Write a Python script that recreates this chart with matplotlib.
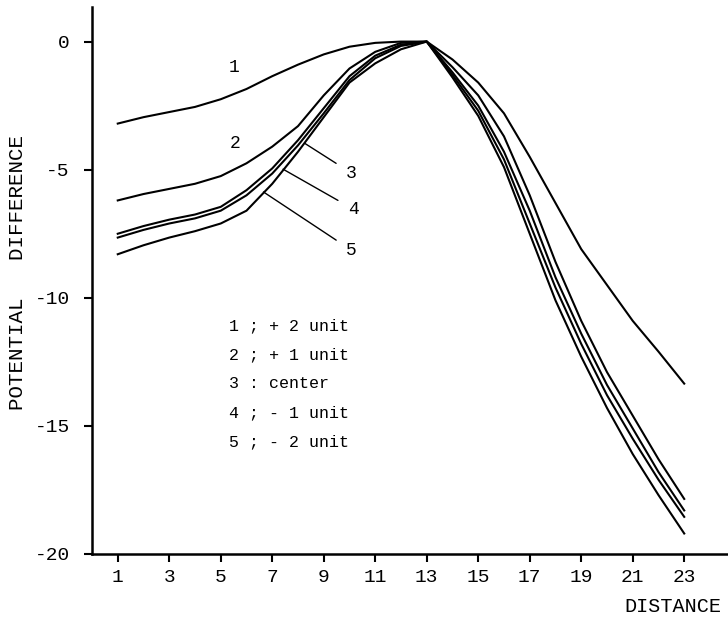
import matplotlib
matplotlib.use("Agg")
import matplotlib.pyplot as plt

plt.rcParams['font.family'] = ['Liberation Mono', 'DejaVu Sans Mono']
plt.rcParams['axes.unicode_minus'] = False

distance = [1, 2, 3, 4, 5, 6, 7, 8, 9, 10, 11, 12, 13,
            14, 15, 16, 17, 18, 19, 20, 21, 22, 23]

# potential difference of each curve
pd1 = [-3.2, -2.95, -2.75, -2.55, -2.25, -1.85, -1.35, -0.9, -0.5, -0.2, -0.05, 0.0, 0.0,
       -0.7, -1.6, -2.8, -4.5, -6.3, -8.1, -9.5, -10.9, -12.1, -13.35]
pd2 = [-6.2, -5.95, -5.75, -5.55, -5.25, -4.75, -4.1, -3.3, -2.1, -1.05, -0.4, -0.05, 0.0,
       -1.0, -2.1, -3.7, -6.0, -8.6, -10.9, -12.9, -14.6, -16.3, -17.85]
pd3 = [-7.5, -7.2, -6.95, -6.75, -6.45, -5.8, -4.95, -3.85, -2.6, -1.35, -0.55, -0.12, 0.0,
       -1.2, -2.5, -4.3, -6.6, -9.2, -11.4, -13.4, -15.1, -16.8, -18.3]
pd4 = [-7.65, -7.35, -7.1, -6.9, -6.6, -6.0, -5.15, -4.05, -2.8, -1.5, -0.65, -0.17, 0.0,
       -1.3, -2.7, -4.6, -7.1, -9.6, -11.8, -13.8, -15.5, -17.1, -18.55]
pd5 = [-8.3, -7.95, -7.65, -7.4, -7.1, -6.6, -5.55, -4.3, -2.95, -1.6, -0.85, -0.3, 0.0,
       -1.4, -2.9, -4.9, -7.5, -10.1, -12.3, -14.3, -16.1, -17.7, -19.2]

legend_lines = ["1 ; + 2 unit", "2 ; + 1 unit", "3 : center", "4 ; - 1 unit", "5 ; - 2 unit"]
xticks = [1, 3, 5, 7, 9, 11, 13, 15, 17, 19, 21, 23]
yticks = [0, -5, -10, -15, -20]

fig = plt.figure(figsize=(7.28, 6.19), dpi=100)
ax = fig.add_axes([92 / 728, 1 - 554 / 619, 1 - 92 / 728, 547 / 619])

for ys in [pd1, pd2, pd3, pd4, pd5]:
    ax.plot(distance, ys, color='black', lw=1.5, solid_joinstyle='round')

ax.set_xlim(0, 24.7)
ax.set_ylim(-20, 1.35)
ax.set_xticks(xticks)
ax.set_yticks(yticks)
ax.tick_params(direction='out', length=6, width=1.5, labelsize=14)
ax.tick_params(axis='x', pad=5)
ax.tick_params(axis='y', pad=10)
for s in ['top', 'right']:
    ax.spines[s].set_visible(False)
for s in ['left', 'bottom']:
    ax.spines[s].set_linewidth(1.8)

# curve labels and leader lines
ax.text(5.5, -1.03, "1", fontsize=13, ha='center', va='center')
ax.text(5.57, -3.96, "2", fontsize=13, ha='center', va='center')
ax.annotate("3", xy=(8.26, -3.97), xytext=(10.07, -5.13), fontsize=13, ha='center', va='center',
            arrowprops=dict(arrowstyle='-', lw=1.0, color='black', shrinkA=6, shrinkB=0))
ax.annotate("4", xy=(7.42, -4.98), xytext=(10.15, -6.54), fontsize=13, ha='center', va='center',
            arrowprops=dict(arrowstyle='-', lw=1.0, color='black', shrinkA=6, shrinkB=0))
ax.annotate("5", xy=(6.66, -5.87), xytext=(10.07, -8.14), fontsize=13, ha='center', va='center',
            arrowprops=dict(arrowstyle='-', lw=1.0, color='black', shrinkA=6, shrinkB=0))

for i, t in enumerate(legend_lines):
    ax.text(5.34, -11.1 - 1.13 * i, t, fontsize=12, ha='left', va='center')

fig.text(673 / 728, 1 - 606 / 619, "DISTANCE", fontsize=14.5, ha='center', va='center')
fig.text(18 / 728, 1 - 272 / 619, "POTENTIAL   DIFFERENCE", fontsize=15, ha='center', va='center',
         rotation=90)

fig.savefig("out.png", dpi=100)
